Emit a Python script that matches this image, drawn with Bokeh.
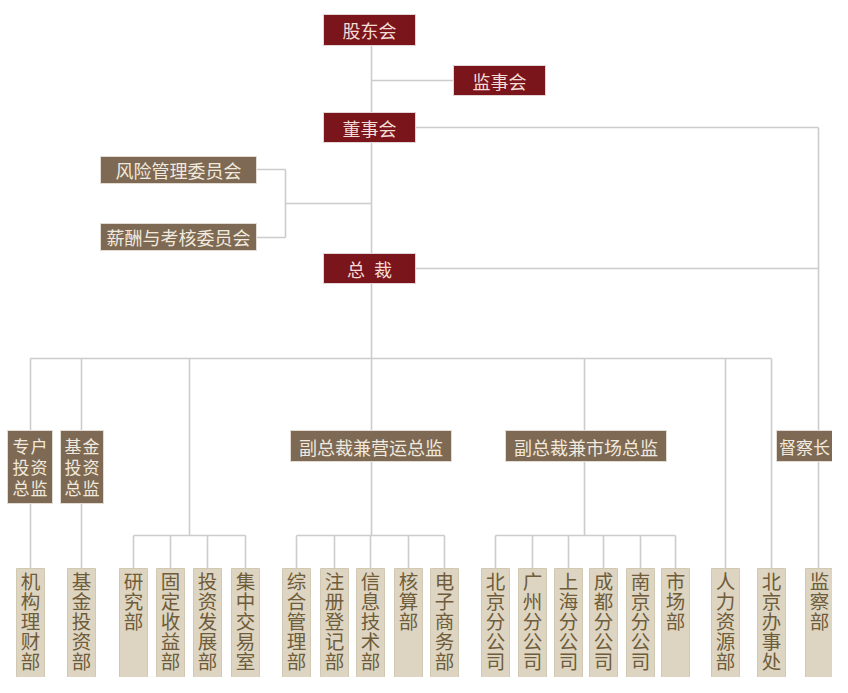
from bokeh.plotting import figure
from bokeh.models import Range1d
from bokeh.core.properties import value
from bokeh.embed import file_html
from bokeh.resources import INLINE

# ---------------- data (labels) ----------------
top_nodes = ["股东会", "监事会", "董事会", "总\u2002裁"]
committees = ["风险管理委员会", "薪酬与考核委员会"]
directors = ["专户投资总监", "基金投资总监"]
vps = ["副总裁兼营运总监", "副总裁兼市场总监", "督察长"]
dept_direct_left = ["机构理财部", "基金投资部"]
dept_invest = ["研究部", "固定收益部", "投资发展部", "集中交易室"]
dept_ops = ["综合管理部", "注册登记部", "信息技术部", "核算部", "电子商务部"]
dept_mkt = ["北京分公司", "广州分公司", "上海分公司", "成都分公司", "南京分公司", "市场部"]
dept_direct_right = ["人力资源部", "北京办事处"]
dept_supervise = ["监察部"]

# ---------------- styles ----------------
FONT = value("Noto Sans CJK SC")
RED = "#7a151b"
RED_TXT = "#f3dcd6"
BROWN = "#7e6a54"
BROWN_TXT = "#f1e9dd"
BEIGE = "#ddd5c1"
BEIGE_TXT = "#6f5c3b"
LINE = "#cccccc"

W, H = 832, 677
p = figure(width=W, height=H, x_range=Range1d(0, W), y_range=Range1d(H, 0),
           output_backend="svg", toolbar_location=None, min_border=0)
p.axis.visible = False
p.grid.visible = False
p.outline_line_color = None
p.background_fill_color = "white"

# ---------------- layout ----------------
top_box = {"l": [323, 453, 323, 323], "r": [415, 545, 415, 415],
           "t": [14, 65, 112, 253], "b": [45, 95, 142, 283]}
com_box = {"l": [100, 100], "r": [256, 256], "t": [156, 223], "b": [183, 250]}
dir_box = {"l": [7, 60], "r": [52, 103], "t": [430, 430], "b": [503, 503]}
vp_box = {"l": [290, 505, 776], "r": [451, 666, 840], "t": [430, 430, 430], "b": [461, 461, 461]}

dept_all = dept_direct_left + dept_invest + dept_ops + dept_mkt + dept_direct_right + dept_supervise
dept_x = [30, 81, 133, 170, 207, 245, 296, 334, 370, 408, 444,
          495, 532, 568, 603, 640, 675, 725, 771, 819]
DW = 28
DTOP = 568
BUS2 = 535

# ---------------- connector lines ----------------
xs, ys = [], []
def seg(x0, y0, x1, y1):
    xs.append([x0, x1]); ys.append([y0, y1])

seg(371, 30, 371, BUS2)         # main spine
seg(371, 80, 453, 80)           # to 监事会
seg(415, 127, 818, 127)         # 董事会 -> 督察长
seg(415, 268, 818, 268)         # 总裁 -> 督察长
seg(818, 127, 818, DTOP)        # 督察长 spine down to 监察部
seg(256, 169, 285, 169)
seg(256, 237, 285, 237)
seg(285, 169, 285, 237)
seg(285, 203, 371, 203)
seg(30, 358, 771, 358)          # main bus
for x in [30, 81, 725, 771]:
    seg(x, 358, x, DTOP)
for x in [189, 584]:
    seg(x, 358, x, BUS2)
seg(133, BUS2, 245, BUS2)
seg(296, BUS2, 444, BUS2)
seg(495, BUS2, 675, BUS2)
for x in dept_x[2:17]:
    seg(x, BUS2, x, DTOP)

p.multi_line(xs, ys, line_color=LINE, line_width=1.6)

# ---------------- boxes ----------------
p.quad(left=top_box["l"], right=top_box["r"], top=top_box["t"], bottom=top_box["b"],
       fill_color=RED, line_color="#e3d6d6", line_width=1)
p.quad(left=com_box["l"], right=com_box["r"], top=com_box["t"], bottom=com_box["b"],
       fill_color=BROWN, line_color="#e3dcd2", line_width=1)
p.quad(left=dir_box["l"], right=dir_box["r"], top=dir_box["t"], bottom=dir_box["b"],
       fill_color=BROWN, line_color="#e3dcd2", line_width=1)
p.quad(left=vp_box["l"], right=vp_box["r"], top=vp_box["t"], bottom=vp_box["b"],
       fill_color=BROWN, line_color="#e3dcd2", line_width=1)
p.quad(left=[x - DW / 2 for x in dept_x], right=[x + DW / 2 for x in dept_x],
       top=[DTOP] * len(dept_x), bottom=[H + 20] * len(dept_x),
       fill_color=BEIGE, line_color="#d2c9b3", line_width=1)

# ---------------- texts ----------------
def centers(box):
    cx = [(a + b) / 2 for a, b in zip(box["l"], box["r"])]
    cy = [(a + b) / 2 for a, b in zip(box["t"], box["b"])]
    return cx, cy

cx, cy = centers(top_box)
p.text(cx, cy, text=top_nodes, text_align="center", text_baseline="middle",
       text_font=FONT, text_font_size="18px", text_color=RED_TXT)

cx, cy = centers(com_box)
p.text(cx, cy, text=committees, text_align="center", text_baseline="middle",
       text_font=FONT, text_font_size="18px", text_color=BROWN_TXT)

vcx = [370.5, 585.5, 804]
vfs = ["18px", "18px", "17px"]
p.text(vcx, [446, 446, 446], text=vps, text_align="center", text_baseline="middle",
       text_font=FONT, text_font_size=vfs, text_color=BROWN_TXT)

# directors: 2 columns x 3 rows, one glyph per character
dx, dy, dt = [], [], []
for k, s in enumerate(directors):
    cxk = (dir_box["l"][k] + dir_box["r"][k]) / 2
    for i, ch in enumerate(s):
        col, row = i % 2, i // 2
        dx.append(cxk - 9 + 18 * col)
        dy.append(445 + 21 * row)
        dt.append(ch)
p.text(dx, dy, text=dt, text_align="center", text_baseline="middle",
       text_font=FONT, text_font_size="17px", text_color=BROWN_TXT)

# departments: vertical text, one glyph per character
bx, by, bt = [], [], []
for x, s in zip(dept_x, dept_all):
    for i, ch in enumerate(s):
        bx.append(x)
        by.append(DTOP + 12 + 20 * i)
        bt.append(ch)
p.text(bx, by, text=bt, text_align="center", text_baseline="middle",
       text_font=FONT, text_font_size="19.5px", text_color=BEIGE_TXT)

open("out.html", "w").write(file_html(p, INLINE))
